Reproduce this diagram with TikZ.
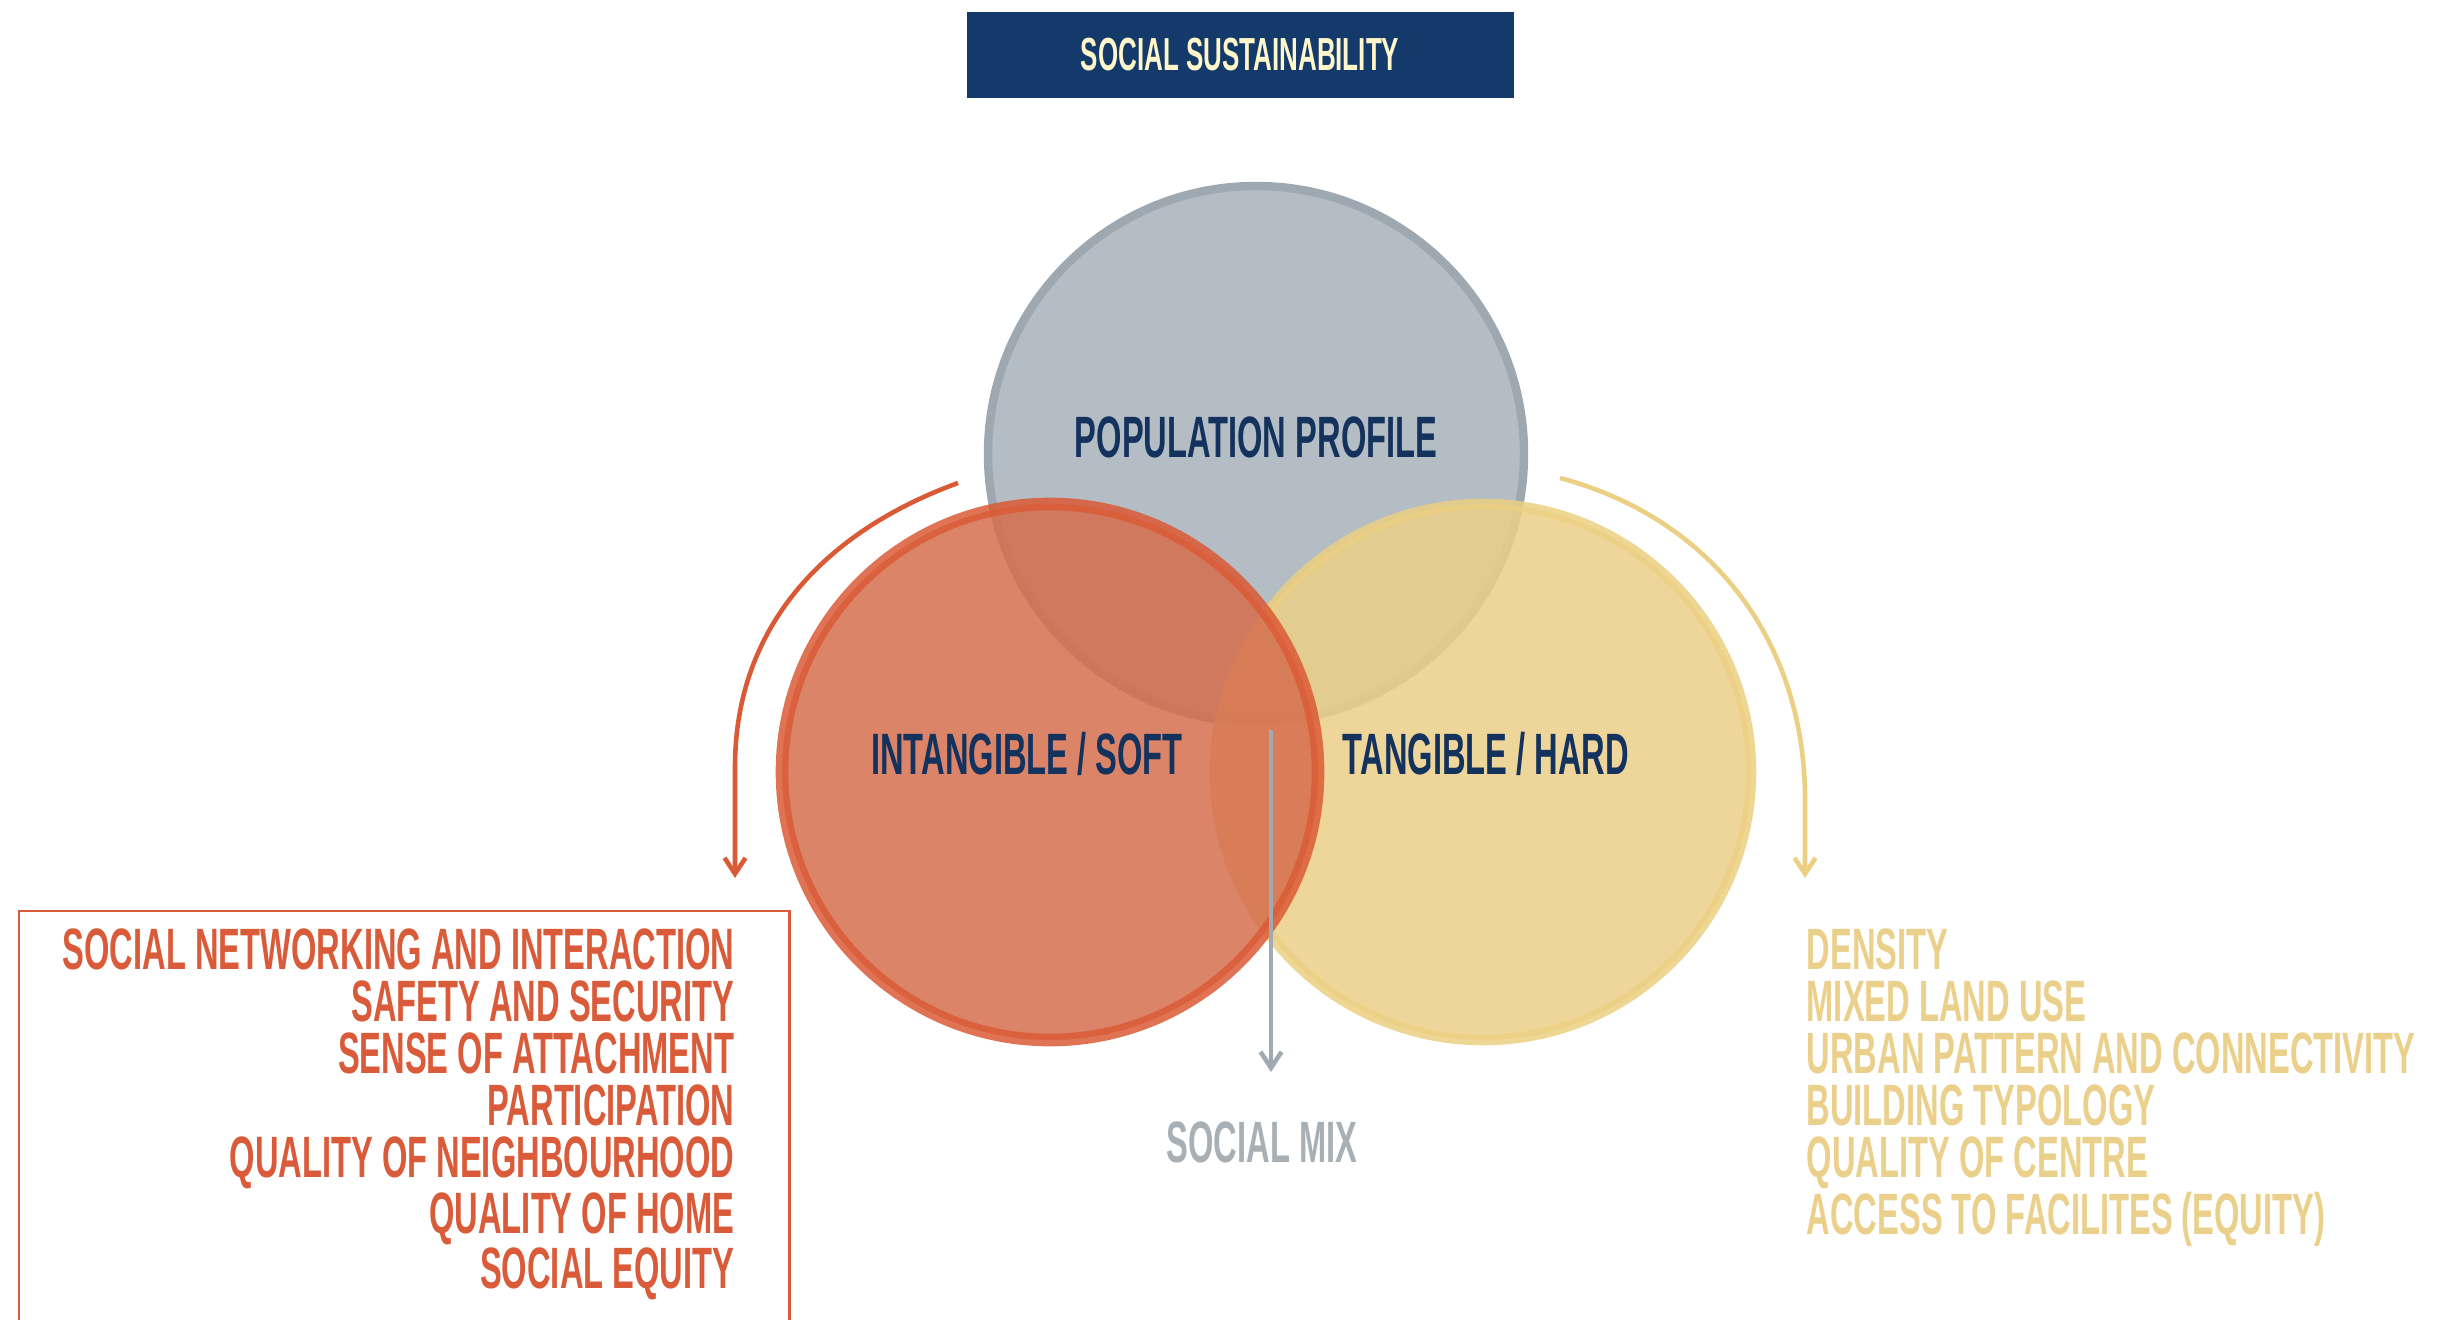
\documentclass[tikz,border=0pt]{standalone}
\usepackage{fontspec}
\usetikzlibrary{arrows.meta}

\newfontfamily\bebas[FakeStretch=0.56]{Liberation Sans}
\newcommand{\labelfont}{\bebas\bfseries\fontsize{16.6}{14.8}\selectfont}
\newcommand{\headfont}{\bebas\bfseries\fontsize{13.2}{14}\selectfont}

\definecolor{navyc}{RGB}{19,58,107}
\definecolor{creamc}{RGB}{255,246,201}
\definecolor{inkc}{RGB}{20,50,94}
\definecolor{greyfill}{RGB}{180,189,196}
\definecolor{greyline}{RGB}{158,168,176}
\definecolor{redfill}{RGB}{213,110,77}
\definecolor{redline}{RGB}{219,90,54}
\definecolor{yelfill}{RGB}{235,207,136}
\definecolor{yelline}{RGB}{235,207,130}
\definecolor{redtext}{RGB}{217,91,57}
\definecolor{yeltext}{RGB}{235,208,140}
\definecolor{mixtext}{RGB}{168,176,181}
\definecolor{mixline}{RGB}{160,170,177}

\begin{document}
\begin{tikzpicture}

\tikzstyle{ringnode}=[circle,inner sep=0mm,minimum size=5.36cm]
\tikzstyle{titlenode}=[rectangle,inner sep=0mm,minimum height=0.86cm,minimum width=5.47cm,fill=navyc,text=creamc,font=\headfont]
\tikzstyle{tagnode}=[inner sep=0mm,text=inkc,font=\labelfont]
\tikzstyle{listnode}=[inner sep=0mm,font=\labelfont]
\tikzstyle{flowline}=[-{Straight Barb[length=1.6mm,width=2.1mm]},line width=1.3pt]

\useasboundingbox (0,0) rectangle (24.37,-13.20);

\begin{scope}[]

\node [titlenode] (title) at (12.40,-0.55){SOCIAL SUSTAINABILITY};

\node [ringnode,fill=greyfill,draw=greyline,line width=2.4pt] (pop) at (12.56,-4.54){};
\node [ringnode,fill=yelfill,draw=yelline,line width=3pt,opacity=0.85] (hard) at (14.83,-7.72){};
\node [ringnode,fill=redfill,draw=redline,line width=3.6pt,opacity=0.85] (soft) at (10.50,-7.72){};

\node [tagnode] (poplabel) at ([xshift=0cm,yshift=0.17cm]pop.center){POPULATION PROFILE};
\node [tagnode] (softlabel) at ([xshift=-0.23cm,yshift=0.18cm]soft.center){INTANGIBLE / SOFT};
\node [tagnode] (hardlabel) at ([xshift=0.03cm,yshift=0.18cm]hard.center){TANGIBLE / HARD};

\node [anchor=north east,listnode,text=redtext,align=right] (softlist) at (7.35,-9.28){SOCIAL NETWORKING AND INTERACTION\\SAFETY AND SECURITY\\SENSE OF ATTACHMENT\\PARTICIPATION\\QUALITY OF NEIGHBOURHOOD\\QUALITY OF HOME\\SOCIAL EQUITY};
\node [anchor=north west,listnode,text=yeltext,align=left] (hardlist) at (18.06,-9.28){DENSITY\\MIXED LAND USE\\URBAN PATTERN AND CONNECTIVITY\\BUILDING TYPOLOGY\\QUALITY OF CENTRE\\ACCESS TO FACILITES (EQUITY)};
\node [listnode,text=mixtext] (mix) at (12.62,-11.42){SOCIAL MIX};

\coordinate (softsrc) at (9.58,-4.83);
\coordinate (softbend) at (7.35,-7.67);
\coordinate (softend) at (7.35,-8.78);
\coordinate (hardsrc) at (15.60,-4.78);
\coordinate (hardbend) at (18.05,-8.00);
\coordinate (hardend) at (18.05,-8.78);
\coordinate (mixsrc) at (12.71,-7.30);
\coordinate (mixend) at (12.71,-10.72);

\draw[flowline,draw=redline] (softsrc) to[out=200,in=90] (softbend)--(softend);
\draw[flowline,draw=yelline] (hardsrc) to[out=-15,in=90] (hardbend)--(hardend);
\draw[flowline,draw=mixline] (mixsrc)--(mixend);

\draw[draw=redtext,line width=0.85pt] (0.19,-13.40)--(0.19,-9.11)--(7.89,-9.11)--(7.89,-13.40);

\end{scope}
\end{tikzpicture}
\end{document}
